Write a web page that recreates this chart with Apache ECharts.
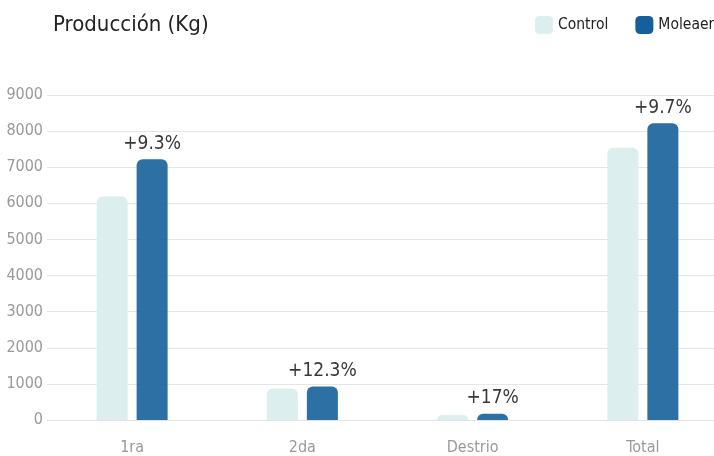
<!DOCTYPE html>
<html>
<head>
<meta charset="utf-8">
<script src="https://cdn.jsdelivr.net/npm/echarts@6/dist/echarts.min.js"></script>
<style>
  html, body { margin: 0; padding: 0; background: #fff; }
  #chart { width: 714px; height: 456px; }
</style>
</head>
<body>
<div id="chart"></div>
<script>
const categories = ['1ra', '2da', 'Destrio', 'Total'];
const controlValues = [6190, 875, 140, 7540];
const moleaerValues = [7220, 925, 170, 8220];
const changeLabels = ['+9.3%', '+12.3%', '+17%', '+9.7%'];
const yTicks = [0, 1000, 2000, 3000, 4000, 5000, 6000, 7000, 8000, 9000];

const FONT = "'Liberation Sans Narrow', 'DejaVu Sans Condensed', 'Open Sans', sans-serif";

const myChart = echarts.init(document.getElementById('chart'));
const option = {
    animation: false,
    title: {
        text: 'Producción (Kg)',
        left: 48,
        top: 9,
        textStyle: { fontFamily: FONT, fontSize: 22, fontWeight: 'normal', color: '#222' }
    },
    legend: {
        left: 530,
        top: 11,
        width: 300,
        orient: 'horizontal',
        itemWidth: 18,
        itemHeight: 18,
        itemGap: 27,
        icon: 'roundRect',
        textStyle: { fontFamily: FONT, fontSize: 15.5, color: '#222' },
        data: [
            { name: 'Control' },
            { name: 'Moleaer', itemStyle: { opacity: 1 } }
        ]
    },
    grid: { left: 47, top: 95, width: 681, height: 325, outerBoundsMode: 'none' },
    xAxis: {
        type: 'category',
        data: categories,
        axisLine: { lineStyle: { color: '#e3e3e3' } },
        axisTick: { show: false },
        axisLabel: { fontFamily: FONT, fontSize: 16, color: '#999', margin: 20 }
    },
    yAxis: {
        type: 'value',
        min: yTicks[0],
        max: yTicks[yTicks.length - 1],
        interval: 1000,
        axisLine: { show: false },
        axisTick: { show: false },
        splitLine: { lineStyle: { color: '#e6e6e6' } },
        axisLabel: {
            fontFamily: FONT, fontSize: 16, color: '#999', margin: 4,
            formatter: v => String(v)
        }
    },
    series: [
        {
            name: 'Control',
            type: 'bar',
            data: controlValues,
            barWidth: 31,
            barGap: '29%',
            itemStyle: { color: '#dceeee', borderRadius: [6, 6, 0, 0] }
        },
        {
            name: 'Moleaer',
            type: 'bar',
            data: moleaerValues,
            barWidth: 31,
            itemStyle: { color: '#15609a', opacity: 0.9, borderRadius: [6, 6, 0, 0] },
            label: {
                show: true,
                position: 'top',
                distance: 6,
                formatter: p => changeLabels[p.dataIndex],
                fontFamily: FONT,
                fontSize: 19,
                color: '#222'
            }
        }
    ]
};
myChart.setOption(option);
</script>
</body>
</html>
